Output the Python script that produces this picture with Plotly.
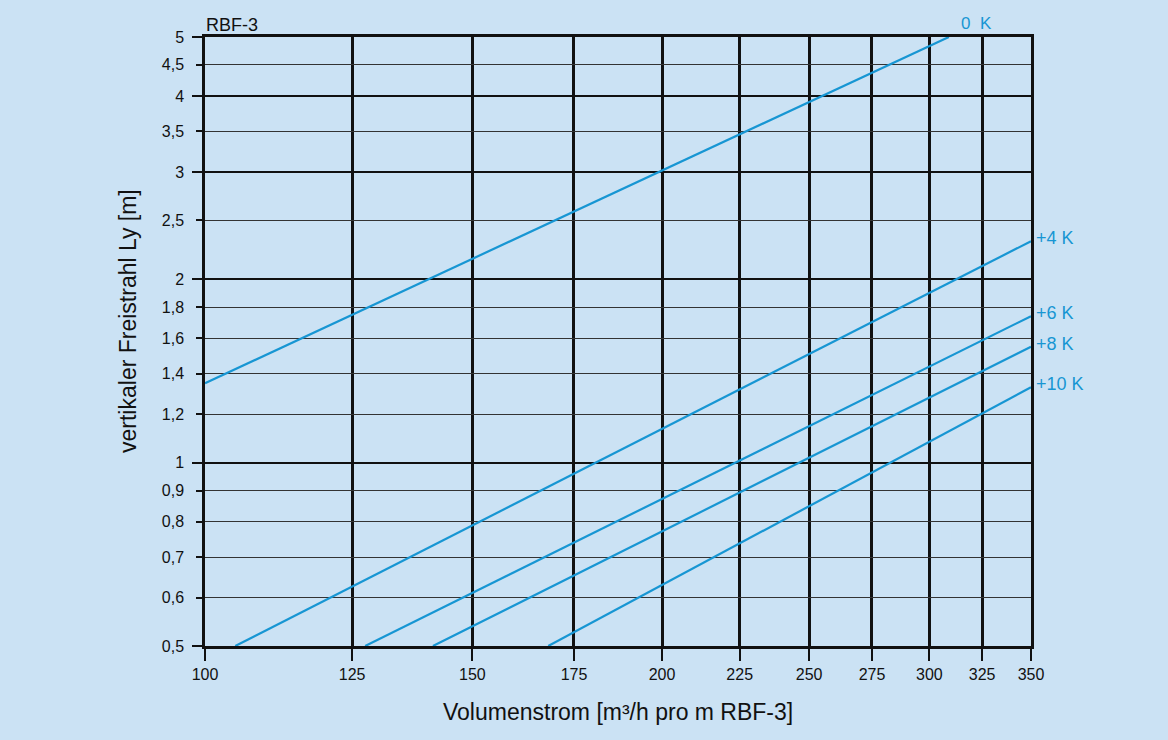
import plotly.graph_objects as go
import math

# Data (each curve is a straight line on log-log axes)
curve_names = ["0 K", "+4 K", "+6 K", "+8 K", "+10 K"]
flow_start = [100, 104.7, 127.5, 141.3, 168.3]
flow_end = [309, 350, 350, 350, 350]
ly_start = [1.35, 0.5, 0.5, 0.5, 0.5]
ly_end = [5.0, 2.31, 1.74, 1.55, 1.33]

x_ticks = [100, 125, 150, 175, 200, 225, 250, 275, 300, 325, 350]
y_ticks = [0.5, 0.6, 0.7, 0.8, 0.9, 1, 1.2, 1.4, 1.6, 1.8, 2, 2.5, 3, 3.5, 4, 4.5, 5]
y_tick_text = ["0,5", "0,6", "0,7", "0,8", "0,9", "1", "1,2", "1,4", "1,6", "1,8",
               "2", "2,5", "3", "3,5", "4", "4,5", "5"]
y_major = [0.5, 1, 2, 3, 4, 5]

x_title = "Volumenstrom [m³/h pro m RBF-3]"
y_title = "vertikaler Freistrahl Ly [m]"
chart_label = "RBF-3"

BG = "#cbe2f4"
BLUE = "#1796d3"
INK = "#111111"
FONT = "Liberation Sans, Arial, sans-serif"

fig = go.Figure()
for name, x0, x1, y0, y1 in zip(curve_names, flow_start, flow_end, ly_start, ly_end):
    fig.add_trace(go.Scatter(x=[x0, x1], y=[y0, y1], mode="lines", name=name,
                             line=dict(color=BLUE, width=2.2), showlegend=False))
# invisible trace to activate overlay axis (major grid / long ticks)
fig.add_trace(go.Scatter(x=[100], y=[1], yaxis="y2", mode="markers",
                         marker=dict(opacity=0), showlegend=False, hoverinfo="skip"))

xr = [math.log10(100), math.log10(350)]
yr = [math.log10(0.5), math.log10(5)]

fig.update_layout(
    width=1168, height=740,
    margin=dict(l=205, r=137, t=37, b=94),
    paper_bgcolor=BG, plot_bgcolor=BG,
    font=dict(family=FONT, color=INK),
    xaxis=dict(type="log", range=xr, tickmode="array", tickvals=x_ticks,
               ticktext=[str(v) for v in x_ticks],
               ticks="outside", ticklen=12, tickwidth=2, tickcolor=INK,
               showgrid=True, gridcolor=INK, gridwidth=2.5,
               showline=True, linecolor=INK, linewidth=2.5, mirror=True,
               zeroline=False, tickfont=dict(size=16, family=FONT)),
    yaxis=dict(type="log", range=yr, tickmode="array", tickvals=y_ticks,
               ticktext=y_tick_text,
               ticks="outside", ticklen=6, tickwidth=2, tickcolor=INK,
               showgrid=True, gridcolor="#333333", gridwidth=1.2,
               showline=True, linecolor=INK, linewidth=2.5, mirror=True,
               zeroline=False, tickfont=dict(size=16, family=FONT),
               ticklabelstandoff=9),
    yaxis2=dict(type="log", range=yr, overlaying="y", side="left",
                tickmode="array", tickvals=y_major, showticklabels=False,
                ticks="outside", ticklen=12, tickwidth=2, tickcolor=INK,
                showgrid=True, gridcolor=INK, gridwidth=2,
                zeroline=False, showline=False),
)

# axis titles
fig.add_annotation(x=0.5, y=-0.109, xref="paper", yref="paper", text=x_title,
                   showarrow=False, xanchor="center", yanchor="middle",
                   font=dict(size=23, family=FONT, color=INK))
fig.add_annotation(x=-0.093, y=0.534, xref="paper", yref="paper", text=y_title,
                   showarrow=False, xanchor="center", yanchor="middle", textangle=-90,
                   font=dict(size=23, family=FONT, color=INK))

fig.add_annotation(x=0, y=1, xref="paper", yref="paper", text=chart_label,
                   showarrow=False, xanchor="left", yanchor="bottom",
                   font=dict(size=18, family=FONT, color=INK), yshift=0, xshift=-1)

for i, name in enumerate(curve_names):
    if i == 0:
        fig.add_annotation(x=math.log10(flow_end[i]), y=math.log10(ly_end[i]),
                           text="0&nbsp;&nbsp;K", showarrow=False, xanchor="left",
                           yanchor="bottom", xshift=10, yshift=2,
                           font=dict(size=17, family=FONT, color=BLUE))
    else:
        fig.add_annotation(x=math.log10(flow_end[i]), y=math.log10(ly_end[i]),
                           text=name, showarrow=False, xanchor="left",
                           yanchor="middle", xshift=3, yshift=3,
                           font=dict(size=18, family=FONT, color=BLUE))

fig.write_html("out.html", config={"displayModeBar": False},
               post_script="document.body.style.margin='0';document.body.style.background='%s';" % BG)
